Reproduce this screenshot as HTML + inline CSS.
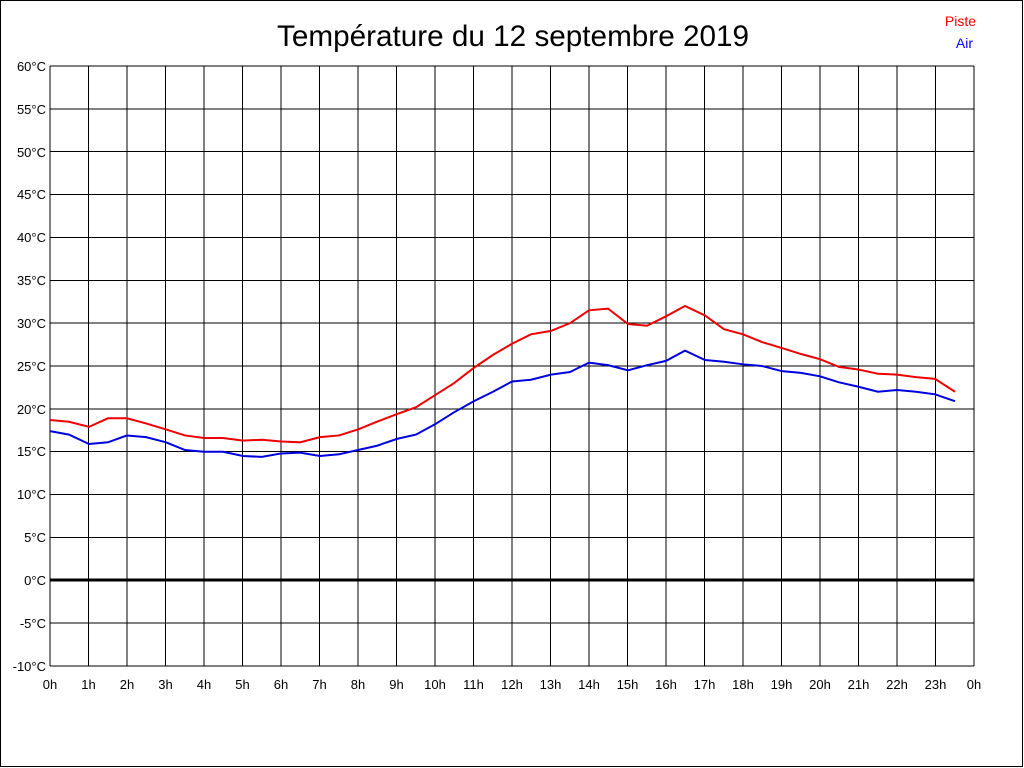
<!DOCTYPE html>
<html><head><meta charset="utf-8"><style>
html,body{margin:0;padding:0;background:#fff}
svg{display:block}
text{font-family:"Liberation Sans",Arial,sans-serif;font-size:13px}
</style></head><body>
<svg width="1024" height="768" xmlns="http://www.w3.org/2000/svg">
<rect x="0.5" y="0.5" width="1022" height="766" fill="#fff" stroke="#000"/>
<text x="513" y="46" text-anchor="middle" style="font-size:29.7px">Température du 12 septembre 2019</text>
<text x="976" y="26" text-anchor="end" fill="#f00" style="font-size:14px">Piste</text>
<text x="973" y="48" text-anchor="end" fill="#00f" style="font-size:14px">Air</text>
<g stroke="#000" stroke-width="1" fill="none" shape-rendering="crispEdges">
<path d="M50,66V666M88.5,66V666M127,66V666M165.5,66V666M204,66V666M242.5,66V666M281,66V666M319.5,66V666M358,66V666M396.5,66V666M435,66V666M473.5,66V666M512,66V666M550.5,66V666M589,66V666M627.5,66V666M666,66V666M704.5,66V666M743,66V666M781.5,66V666M820,66V666M858.5,66V666M897,66V666M935.5,66V666M974,66V666"/>
<path d="M50,66H974M50,108.9H974M50,151.7H974M50,194.6H974M50,237.4H974M50,280.3H974M50,323.1H974M50,366H974M50,408.9H974M50,451.7H974M50,494.6H974M50,537.4H974M50,623.1H974M50,666H974"/>
</g>
<path d="M50,580H974" stroke="#000" stroke-width="3"/>
<g text-anchor="end">
<text x="46" y="71">60°C</text><text x="46" y="114">55°C</text><text x="46" y="157">50°C</text><text x="46" y="199">45°C</text><text x="46" y="242">40°C</text><text x="46" y="285">35°C</text><text x="46" y="328">30°C</text><text x="46" y="371">25°C</text><text x="46" y="414">20°C</text><text x="46" y="456">15°C</text><text x="46" y="499">10°C</text><text x="46" y="542">5°C</text><text x="46" y="585">0°C</text><text x="46" y="628">-5°C</text><text x="46" y="671">-10°C</text>
</g>
<g text-anchor="middle">
<text x="50" y="689">0h</text><text x="88.5" y="689">1h</text><text x="127" y="689">2h</text><text x="165.5" y="689">3h</text><text x="204" y="689">4h</text><text x="242.5" y="689">5h</text><text x="281" y="689">6h</text><text x="319.5" y="689">7h</text><text x="358" y="689">8h</text><text x="396.5" y="689">9h</text><text x="435" y="689">10h</text><text x="473.5" y="689">11h</text><text x="512" y="689">12h</text><text x="550.5" y="689">13h</text><text x="589" y="689">14h</text><text x="627.5" y="689">15h</text><text x="666" y="689">16h</text><text x="704.5" y="689">17h</text><text x="743" y="689">18h</text><text x="781.5" y="689">19h</text><text x="820" y="689">20h</text><text x="858.5" y="689">21h</text><text x="897" y="689">22h</text><text x="935.5" y="689">23h</text><text x="974" y="689">0h</text>
</g>
<g transform="translate(0,580.3) scale(1,-8.571)" fill="none" stroke-width="2">
<polyline vector-effect="non-scaling-stroke" stroke="#e00" points="50,18.7 69,18.5 89,17.9 108,18.9 127,18.9 146,18.3 166,17.6 185,16.9 204,16.6 223,16.6 243,16.3 262,16.4 281,16.2 300,16.1 320,16.7 339,16.9 358,17.6 377,18.5 397,19.4 416,20.2 435,21.6 454,23.0 474,24.8 493,26.3 512,27.6 531,28.7 551,29.1 570,30.0 589,31.5 608,31.7 628,29.9 647,29.7 666,30.8 685,32.0 705,30.9 724,29.3 743,28.7 762,27.8 782,27.1 801,26.4 820,25.8 839,24.9 858,24.6 878,24.1 897,24.0 916,23.7 935,23.5 955,22.0"/>
<polyline vector-effect="non-scaling-stroke" stroke="#00d" points="50,17.4 69,17.0 89,15.9 108,16.1 127,16.9 146,16.7 166,16.1 185,15.2 204,15.0 223,15.0 243,14.5 262,14.4 281,14.8 300,14.9 320,14.5 339,14.7 358,15.2 377,15.7 397,16.5 416,17.0 435,18.2 454,19.6 474,20.9 493,22.0 512,23.2 531,23.4 551,24.0 570,24.3 589,25.4 608,25.1 628,24.5 647,25.1 666,25.6 685,26.8 705,25.7 724,25.5 743,25.2 762,25.0 782,24.4 801,24.2 820,23.8 839,23.1 858,22.6 878,22.0 897,22.2 916,22.0 935,21.7 955,20.9"/>
</g>
</svg>
</body></html>
